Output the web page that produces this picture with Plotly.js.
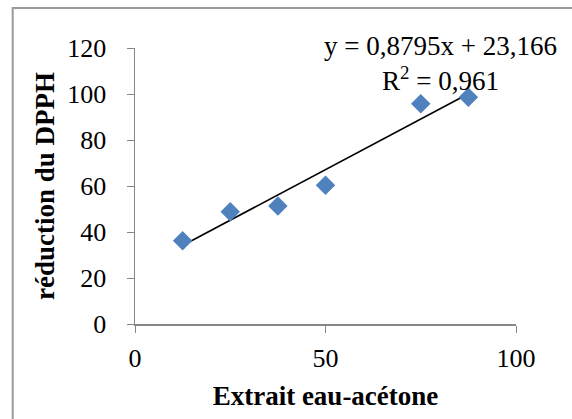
<!DOCTYPE html>
<html>
<head>
<meta charset="utf-8">
<script src="https://cdn.plot.ly/plotly-3.0.1.min.js"></script>
<style>html,body{margin:0;padding:0;background:#fff;}#chart{width:572px;height:419px;}</style>
</head>
<body>
<div id="chart"></div>
<script>
const concentrations = [12.5, 25, 37.5, 50, 75, 87.5];
const reductionDPPH = [36.2, 48.8, 51.3, 60.3, 95.8, 98.6];
const slope = 0.8795;
const intercept = 23.166;
const equationText = 'y = 0,8795x + 23,166<br>R<sup>2</sup> = 0,961';
const xTitle = 'Extrait eau-acétone';
const yTitle = 'réduction du DPPH';

const xMin = Math.min(...concentrations), xMax = Math.max(...concentrations);
const trendX = [xMin, xMax];
const trendY = trendX.map(x => slope * x + intercept);

const serif = '"Liberation Serif", serif';
const axisColor = '#868686';

const data = [
  {x: trendX, y: trendY, mode: 'lines', type: 'scatter',
   line: {color: '#000', width: 1.6}, hoverinfo: 'skip'},
  {x: concentrations, y: reductionDPPH, mode: 'markers', type: 'scatter',
   marker: {symbol: 'diamond', size: 15, color: '#4F81BD'}, cliponaxis: false}
];

const layout = {
  width: 572, height: 419,
  margin: {l: 135, r: 56, t: 48, b: 95},
  paper_bgcolor: '#fff', plot_bgcolor: '#fff',
  showlegend: false,
  font: {family: serif, color: '#000', size: 25},
  xaxis: {
    range: [0, 100], tickvals: [0, 50, 100], ticks: 'outside', ticklen: 7, tickcolor: axisColor,
    showline: true, linecolor: axisColor, linewidth: 1.5, showgrid: false, zeroline: false,
    tickfont: {family: serif, size: 26}, ticklabelstandoff: 3,
    title: {text: '<b>' + xTitle + '</b>', font: {family: serif, size: 27}, standoff: 14}
  },
  yaxis: {
    range: [0, 120], tickvals: [0, 20, 40, 60, 80, 100, 120], ticks: 'outside', ticklen: 7, tickcolor: axisColor,
    showline: true, linecolor: axisColor, linewidth: 1.5, showgrid: false, zeroline: false,
    tickfont: {family: serif, size: 26}, ticklabelstandoff: 15,
    title: {text: '<b>' + yTitle + '</b>', font: {family: serif, size: 27}, standoff: 5}
  },
  annotations: [{
    xref: 'paper', yref: 'paper', x: 0.803, y: 0.945, xanchor: 'center', yanchor: 'middle',
    text: equationText, showarrow: false, align: 'center',
    font: {family: serif, size: 27, color: '#000'}
  }],
  shapes: [{
    type: 'rect', xref: 'paper', yref: 'paper', layer: 'below',
    x0: -0.321, x1: 1.3, y0: -0.5, y1: 1.145,
    line: {color: '#9a9a9a', width: 2}, fillcolor: 'rgba(0,0,0,0)'
  }]
};

Plotly.newPlot('chart', data, layout, {displayModeBar: false, staticPlot: true});
</script>
</body>
</html>
